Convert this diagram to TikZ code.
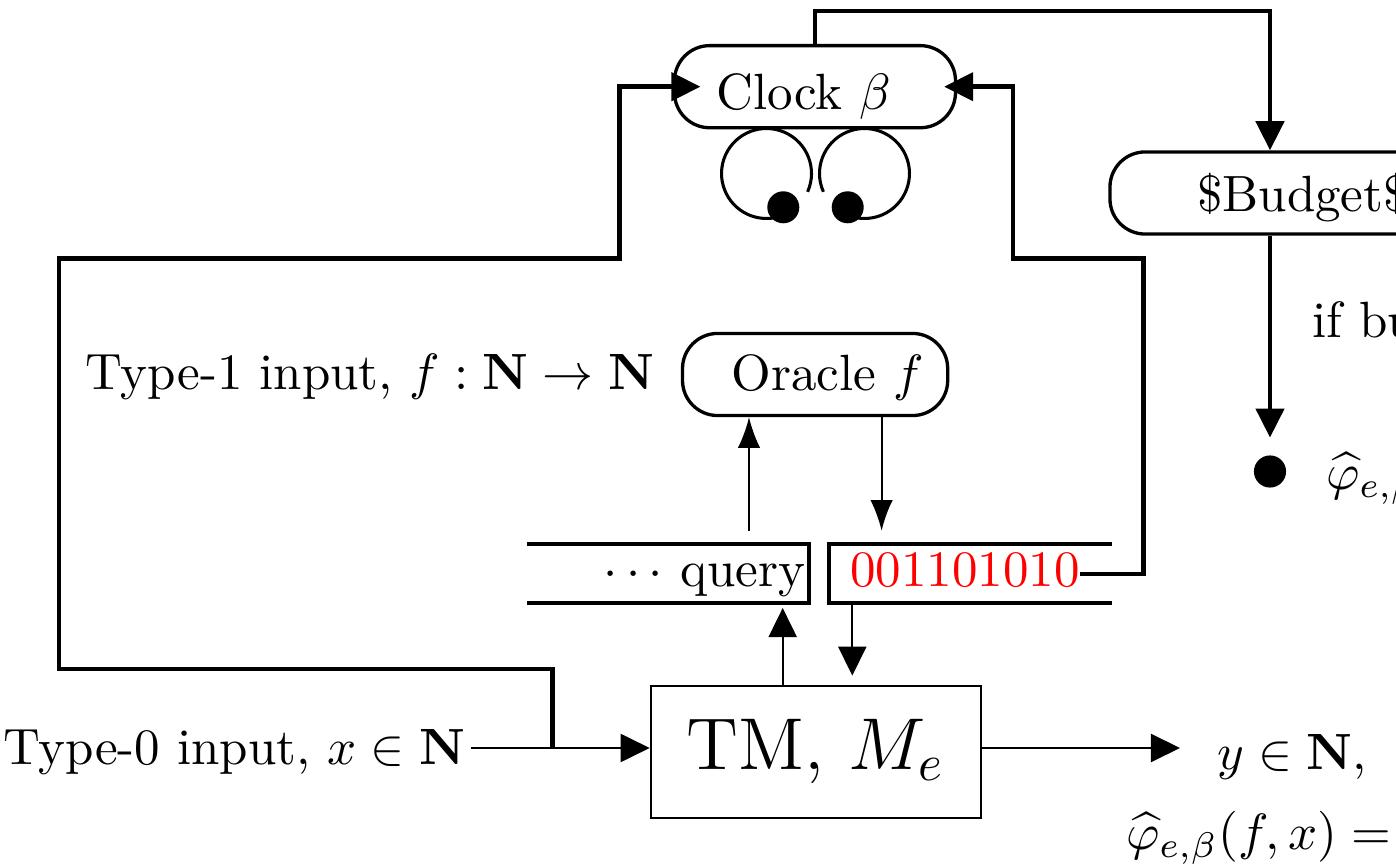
\documentclass[tikz,border=0pt]{standalone}
\usetikzlibrary{arrows.meta}
\begin{document}
\begin{tikzpicture}[x=0.19608pt, y=-0.19608pt,
  wire/.style={line width=0.9pt},
  thinwire/.style={line width=0.4pt},
  tip/.style={-{Triangle[length=5.7pt,width=5.5pt]}},
  ltip/.style={-{Latex[length=6pt,width=4.4pt]}},
  roundbox/.style={draw, line width=0.65pt, rounded corners=6.9pt,
    minimum height=16.1pt, inner sep=0pt},
  txt/.style={inner sep=0pt},
  hand/.style={line width=0.6pt},
]
\useasboundingbox (0,0) rectangle (1396,867);
\clip (0,0) rectangle (1396,867);

% boxes
\node[roundbox, minimum width=55.1pt, text height=9.1pt, text depth=0pt]
  (clock) at (815,86.7) {Clock $\beta$\kern4.5pt};
\node[roundbox, minimum width=75.7pt, text height=7.1pt, text depth=0pt]
  (budget) at (1303,193) {\$Budget\$};
\node[roundbox, minimum width=52pt, text height=7pt, text depth=0.9pt]
  (oracle) at (815.1,374.5) {\kern5pt Oracle $f$};
\node[draw, line width=0.4pt, minimum width=64.7pt, minimum height=25.9pt,
  inner sep=0pt, font=\Large] (tm) at (815.7,751.7) {TM, $M_e$};

% clock hands: two loops ending in dots (radius 45 px = 8.82pt)
\draw[hand] (807.6,191.8) arc[start angle=-24, end angle=280, radius=8.82pt];
\fill (783.3,207.3) circle[radius=16];
\draw[hand] (823.4,191.8) arc[start angle=204, end angle=-100, radius=8.82pt];
\fill (847.7,207.3) circle[radius=16];

% halting dot
\node[circle, fill, minimum size=6.3pt, inner sep=0pt] (halt) at (1270,471.5) {};

% tapes
\draw[wire] (527,544) -- (809,544) -- (809,603) -- (527,603);
\draw[wire] (1112,544) -- (829,544) -- (829,603) -- (1112,603);
\node[txt, anchor=base east] (query) at (806,587) {$\cdots$ query};
\node[txt, anchor=base west, text=red] (bits) at (849,587) {001101010};

% text labels
\node[txt, anchor=base east] (in1) at (655,390) {Type-1 input, $f:\mathbf{N}\to\mathbf{N}$};
\node[txt, anchor=base east] (in0) at (466,765) {Type-0 input, $x\in\mathbf{N}$};
\node[txt, anchor=base west] (yout) at (1216.7,770) {$y\in\mathbf{N}$,};
\node[txt, anchor=base west] (phiout) at (1125,850) {$\widehat{\varphi}_{e,\beta}(f,x) = y$};
\node[txt, anchor=base west] (cond) at (1311.7,338) {if budget};
\node[txt, anchor=base west] (haltlbl) at (1325,490) {$\widehat{\varphi}_{e,\beta}(f,x)$};

% anchor points of the connectors
\coordinate (lift) at (815,11);
\coordinate (jn) at (552.7,748);
\coordinate (lin) at (470.7,748);
\coordinate (tout) at (980.7,748);
\coordinate (yin) at (1180,748);
\coordinate (bout) at (1079.6,574);
\coordinate (qout) at (749,530.7);
\coordinate (ain) at (881.6,530.7);
\coordinate (qin) at (782.7,608);
\coordinate (aout) at (852.3,605);

% clock to budget, budget to halting state
\draw[wire, tip] (clock.north) -- (lift) -| (budget.north -| halt);
\draw[wire, tip, shorten >=3.3pt] (budget.south -| halt) -- (halt);

% feedback paths into the clock
\draw[wire, tip] (jn) -- (552.7,669) -- (59,669) -- (59,258.3) -- (619.3,258.3)
  |- ([xshift=5.4pt]clock.west);
\draw[wire, tip] (bout) -- (1143.3,574) -- (1143.3,258.3) -- (1013,258.3)
  |- ([xshift=-2.55pt]clock.east);

% oracle queries and answers
\draw[thinwire, ltip] (qout) -- (qout |- oracle.south);
\draw[thinwire, ltip] (ain |- oracle.south) -- (ain);

% machine and tapes
\draw[thinwire, tip] (qin |- tm.north) -- (qin);
\draw[thinwire, tip, shorten >=1.76pt] (aout) -- (aout |- tm.north);

% input and output
\draw[thinwire, tip] (lin) -- (lin -| tm.west);
\draw[thinwire, tip] (tout) -- (yin);
\end{tikzpicture}
\end{document}
